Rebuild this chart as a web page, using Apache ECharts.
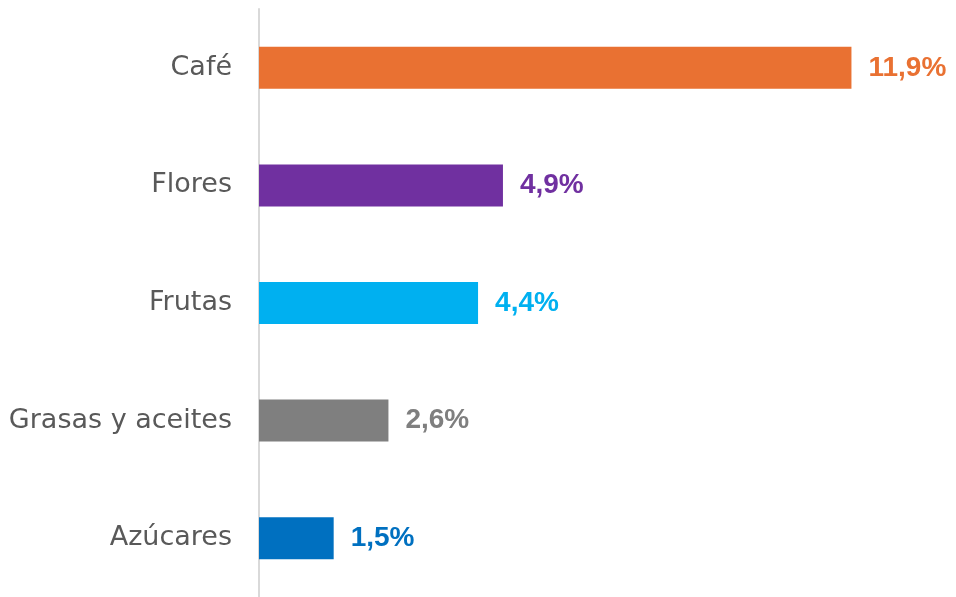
<!DOCTYPE html>
<html>
<head>
<meta charset="utf-8">
<script src="https://cdn.jsdelivr.net/npm/echarts@6/dist/echarts.min.js"></script>
<style>
html,body{margin:0;padding:0;background:#fff;}
#c{width:956px;height:597px;}
</style>
</head>
<body>
<div id="c"></div>
<script>
const categories = ['Azúcares', 'Grasas y aceites', 'Frutas', 'Flores', 'Café'];
const values = [1.5, 2.6, 4.4, 4.9, 11.9];
const colors = ['#0070C0', '#7F7F7F', '#00B0F0', '#7030A0', '#E97132'];

const chart = echarts.init(document.getElementById('c'));
chart.setOption({
  animation: false,
  grid: { left: 259, right: 0, top: 9, height: 590, containLabel: false },
  xAxis: {
    type: 'value', min: 0, max: 14, show: false
  },
  yAxis: {
    type: 'category',
    data: categories,
    axisLine: { show: true, lineStyle: { color: '#D9D9D9', width: 2 } },
    axisTick: { show: false },
    axisLabel: {
      color: '#595959', fontSize: 27, margin: 27,
      fontFamily: '"DejaVu Sans", sans-serif'
    }
  },
  series: [{
    type: 'bar',
    barWidth: 42,
    data: values.map((v, i) => ({ value: v, itemStyle: { color: colors[i] },
      label: { color: colors[i] } })),
    label: {
      show: true, position: 'right', distance: 17,
      fontSize: 28, fontWeight: 'bold',
      fontFamily: '"Liberation Sans", Arial, sans-serif',
      formatter: p => p.value.toFixed(1).replace('.', ',') + '%'
    }
  }]
});
</script>
</body>
</html>
